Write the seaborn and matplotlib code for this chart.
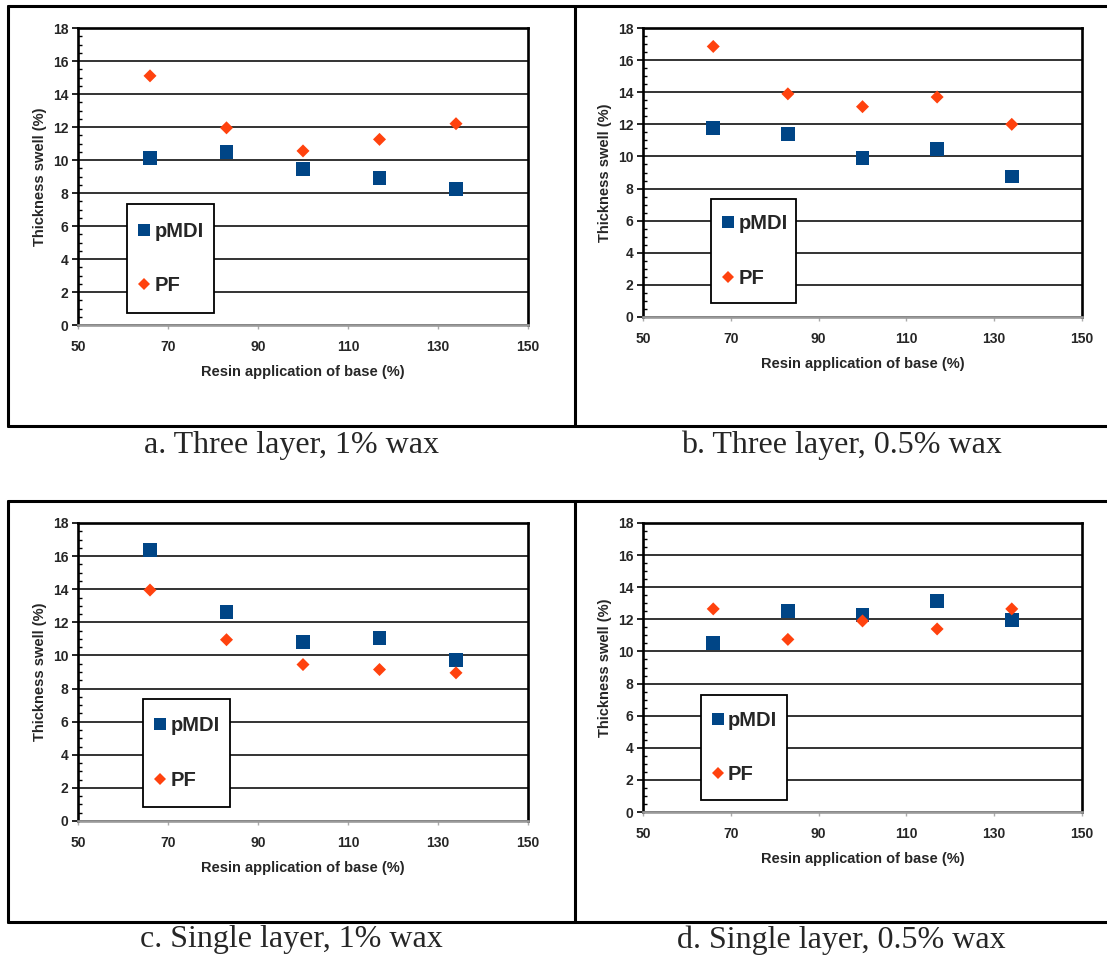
import pandas as pd
import numpy as np
import seaborn as sns
import matplotlib.pyplot as plt
from matplotlib.lines import Line2D
from matplotlib.patches import Rectangle
from matplotlib.ticker import MultipleLocator

# resin application of base (%)
resin = [66, 83, 100, 117, 134]

# thickness swell (%) per panel
a_pmdi = [10.1, 10.5, 9.45, 8.9, 8.25]
a_pf = [15.1, 11.95, 10.55, 11.25, 12.2]
b_pmdi = [11.75, 11.4, 9.9, 10.45, 8.75]
b_pf = [16.85, 13.9, 13.1, 13.7, 12.0]
c_pmdi = [16.35, 12.65, 10.8, 11.05, 9.7]
c_pf = [13.95, 10.95, 9.45, 9.15, 8.95]
d_pmdi = [10.55, 12.5, 12.25, 13.15, 11.95]
d_pf = [12.65, 10.75, 11.9, 11.4, 12.65]

captions = ["a. Three layer, 1% wax", "b. Three layer, 0.5% wax",
            "c. Single layer, 1% wax", "d. Single layer, 0.5% wax"]

palette = {"pMDI": "#004586", "PF": "#FF420E"}
markers = {"pMDI": "s", "PF": "D"}
sizes = {"pMDI": 100, "PF": 44}

sns.set_style("white")
plt.rcParams['font.family'] = ['Liberation Sans', 'DejaVu Sans']

W, H = 1107, 960
fig = plt.figure(figsize=(W / 100, H / 100), dpi=100)

# axes boxes in pixels: left, top, right, bottom ; legend box (left, right, bottom, top) in axes fraction
panels = [
    (a_pmdi, a_pf, (78, 28, 528, 325), (0.109, 0.302, 0.040, 0.407)),
    (b_pmdi, b_pf, (643, 28, 1082, 317), (0.155, 0.349, 0.048, 0.408)),
    (c_pmdi, c_pf, (78, 523, 528, 821), (0.144, 0.338, 0.047, 0.409)),
    (d_pmdi, d_pf, (643, 523, 1082, 812), (0.131, 0.329, 0.042, 0.405)),
]

for pm, pf, (l, t, r, b), (bl, br, bb, bt) in panels:
    ax = fig.add_axes([l / W, 1 - b / H, (r - l) / W, (b - t) / H])
    df = pd.DataFrame({
        "Resin application of base (%)": resin * 2,
        "Thickness swell (%)": pm + pf,
        "Resin": ["pMDI"] * len(resin) + ["PF"] * len(resin),
    })
    sns.scatterplot(data=df, x="Resin application of base (%)", y="Thickness swell (%)",
                    hue="Resin", style="Resin", size="Resin", palette=palette,
                    markers=markers, sizes=sizes, linewidth=0, ax=ax, zorder=3,
                    legend=False)
    ax.set_xlim(50, 150)
    ax.set_ylim(0, 18)
    ax.set_xticks(range(50, 151, 20))
    ax.set_yticks(range(0, 19, 2))
    ax.yaxis.set_minor_locator(MultipleLocator(0.5))
    ax.yaxis.grid(True, which="major", color="#111111", linewidth=1.2)
    ax.set_axisbelow(True)
    for side in ["top", "right", "left"]:
        ax.spines[side].set_color("black")
        ax.spines[side].set_linewidth(1.9)
    ax.spines["bottom"].set_color("#9a9a9a")
    ax.spines["bottom"].set_linewidth(1.9)
    ax.tick_params(axis="y", which="major", direction="out", length=4, width=1.2,
                   color="black", labelsize=10, pad=3, left=True)
    ax.tick_params(axis="y", which="minor", direction="in", length=3, width=1.0,
                   color="black", left=True)
    ax.tick_params(axis="x", which="major", direction="out", length=3, width=1.0,
                   color="#aaaaaa", labelsize=10, pad=8, bottom=True)
    for lab in ax.get_xticklabels() + ax.get_yticklabels():
        lab.set_fontweight("bold")
    ax.set_xlabel("Resin application of base (%)", fontsize=10.5, fontweight="bold", labelpad=8)
    ax.set_ylabel("Thickness swell (%)", fontsize=10.5, fontweight="bold", labelpad=4)

    # legend box
    ax.add_patch(Rectangle((bl, bb), br - bl, bt - bb, transform=ax.transAxes,
                           facecolor="white", edgecolor="black", linewidth=1.3,
                           zorder=4, clip_on=False))
    hs = []
    for name in ["pMDI", "PF"]:
        hs.append(Line2D([], [], linestyle="", marker=markers[name],
                         color=palette[name], markeredgewidth=0,
                         markersize=9.2 if name == "pMDI" else 6.6))
    pad = 11 / (r - l)
    leg = ax.legend(hs, ["pMDI", "PF"], loc="center left",
                    bbox_to_anchor=(bl + pad, (bb + bt) / 2),
                    frameon=False, prop={"weight": "bold", "size": 14.5},
                    labelspacing=1.75, borderpad=0, handlelength=0.62,
                    handletextpad=0.2, borderaxespad=0)
    leg.set_zorder(5)

# table-like frame lines
lw = 2.2
def hline(y, x0, x1):
    fig.add_artist(Line2D([x0 / W, x1 / W], [1 - y / H, 1 - y / H], color="black", lw=lw))
def vline(x, y0, y1):
    fig.add_artist(Line2D([x / W, x / W], [1 - y0 / H, 1 - y1 / H], color="black", lw=lw))

for top, bot in [(6, 426), (501, 922)]:
    hline(top, 8, W)
    hline(bot, 8, W)
    vline(8, top, bot)
    vline(575, top, bot)

cap_x = [291, 841, 291, 841]
cap_y = [445, 445, 940, 940]
for txt, x, y in zip(captions, cap_x, cap_y):
    fig.text(x / W, 1 - y / H, txt, ha="center", va="center",
             fontsize=23, family=["Liberation Serif", "DejaVu Serif"])

plt.savefig("out.png", dpi=100)
